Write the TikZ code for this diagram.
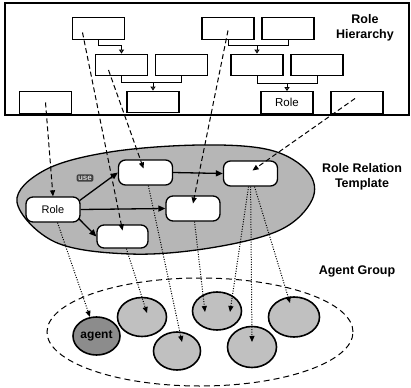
\documentclass[tikz,border=0pt]{standalone}
\usepackage{fontspec}
\setmainfont{Liberation Sans}
\usepackage{tikz}
\usetikzlibrary{calc}
\usetikzlibrary{arrows.meta}
\usetikzlibrary{shapes.geometric}
\definecolor{stipple}{RGB}{182, 182, 182}
\definecolor{agentgray}{RGB}{192, 192, 192}
\definecolor{agentdark}{RGB}{140, 140, 140}
\begin{document}
\begin{tikzpicture}[x=1pt, y=-1pt,
        hbox/.style   ={draw, line width=1.2pt, fill=white, minimum width=52pt, minimum height=21.5pt, inner sep=0pt,
                        font=\fontsize{11.5}{13}\selectfont},
        tnode/.style  ={draw, line width=1.3pt, fill=white, rounded corners=7pt, minimum width=54pt, minimum height=25pt,
                        inner sep=0pt, font=\fontsize{11}{13}\selectfont},
        agentnode/.style={ellipse, draw, line width=1.6pt, fill=agentgray, inner sep=0pt},
        title/.style  ={align=center, font=\fontsize{12.5}{15}\selectfont\bfseries},
        hline/.style  ={line width=1pt},
        isa/.style    ={line width=1pt, -{Triangle[open, length=4pt, width=5pt]}},
        rel/.style    ={line width=1.3pt, -{Triangle[length=7pt, width=6pt]}},
        maps/.style   ={line width=1pt, dash pattern=on 5pt off 3pt, -{Triangle[length=6pt, width=5pt]}},
        plays/.style  ={line width=1pt, dash pattern=on 1pt off 1.5pt, -{Triangle[length=6pt, width=5pt]}}]
    \useasboundingbox (0,0) rectangle (411,387);
    \draw[line width=1.2pt]                                          (  5,  3) rectangle (409,115);
    \filldraw[draw=black, fill=stipple, line width=1.3pt] plot[smooth cycle, tension=0.6] coordinates
        {(17,202) (45,170) (110,152) (200,145) (270,150) (308,172) (312,200) (280,230) (210,248) (130,254) (55,242)};
    \draw[line width=1pt, dash pattern=on 6pt off 4pt]              (200,332) ellipse (153pt and 54pt);

    \node[hbox] (ha)    at ( 98.5, 28.5) {};
    \node[hbox] (hb)    at (121.5, 65.0) {};
    \node[hbox] (hc)    at (181.5, 65.0) {};
    \node[hbox] (hd)    at (153.0,102.0) {};
    \node[hbox] (he)    at ( 45.5,102.5) {};
    \node[hbox] (hf)    at (228.0, 28.5) {};
    \node[hbox] (hg)    at (288.0, 28.5) {};
    \node[hbox] (hh)    at (257.0, 65.0) {};
    \node[hbox] (hi)    at (317.0, 65.0) {};
    \node[hbox] (hrole) at (287.0,102.5) {Role};
    \node[hbox] (hj)    at (357.0,102.5) {};

    \draw[isa]   (ha.south) -- ++(0,6) -| (hb.north);
    \draw[hline] (hb.south) -- ++(0,6) coordinate (bcjoin) -| (hc.south);
    \draw[isa]   (bcjoin -| hd.north) -- (hd.north);
    \draw[hline] (hf.south) -- ++(0,6) coordinate (fgjoin) -| (hg.south);
    \draw[isa]   (fgjoin -| hh.north) -- (hh.north);
    \draw[hline] (hh.south) -- ++(0,7) coordinate (hijoin) -| (hi.south);
    \draw[isa]   (hijoin -| hrole.north) -- (hrole.north);

    \node[tnode] (trole) at ( 53.0,209.5) {Role};
    \node[tnode] (tn1)   at (145.5,172.5) {};
    \node[tnode] (tn2)   at (250.5,173.5) {};
    \node[tnode] (tn3)   at (193.0,208.5) {};
    \node[tnode, minimum width=51pt, minimum height=23pt] (tn4) at (122.5,236.5) {};

    \draw[rel] ($(trole.east)+(-1,-9)$) -- (tn1.west);
    \draw[rel] (trole.east) -- (tn3.west);
    \draw[rel] ($(trole.east)+(-2,9)$) -- (tn4.west);
    \draw[rel] (tn1.east) -- (tn2.west);
    \node[fill=black!75, text=gray!30, inner sep=1.5pt, rounded corners=2pt, font=\fontsize{8}{8}\selectfont\bfseries]
                                                                     (uselbl) at (85,178) {use};

    \node[agentnode, fill=agentdark, minimum width=47pt, minimum height=38pt, font=\fontsize{12}{12}\selectfont\bfseries]
                                                                     (a1) at ( 96.5,336) {agent};
    \node[agentnode, minimum width=49pt, minimum height=39pt] (a2) at (142.0,317) {};
    \node[agentnode, minimum width=47pt, minimum height=38pt] (a3) at (177.0,351) {};
    \node[agentnode, minimum width=49pt, minimum height=38pt] (a4) at (217.0,311) {};
    \node[agentnode, minimum width=49pt, minimum height=41pt] (a5) at (252.0,347) {};
    \node[agentnode, minimum width=51pt, minimum height=40pt] (a6) at (294.0,317) {};

    \draw[maps] (he.center) -- (trole.north);
    \draw[maps] ($(ha.center)+(-16,4)$) -- ($(tn4.center)+(0,-6)$);
    \draw[maps] ($(hb.center)+(-13,5)$) -- ($(tn1.center)+(-2,-4)$);
    \draw[maps] ($(hf.center)+(0,2)$)   -- ($(tn3.center)+(0,-5)$);
    \draw[maps] ($(hj.center)+(-2,-4)$) -- ($(tn2.center)+(2,-3)$);

    \draw[plays] (trole) -- (a1);
    \draw[plays] (tn4) -- ($(a2.center)+(5,-4)$);
    \draw[plays] (tn1) -- ($(a3.center)+(5,-9)$);
    \draw[plays] (tn3) -- ($(a4.center)+(-12,1)$);
    \draw[plays] (tn2) -- ($(a4.center)+(13,1)$);
    \draw[plays] (tn2) -- ($(a5.center)+(0,-5)$);
    \draw[plays] (tn2) -- ($(a6.center)+(-4,-14)$);

    \node[title] (hiertitle) at (365,28)  {Role\\Hierarchy};
    \node[title] (tmpltitle) at (362,177) {Role Relation\\Template};
    \node[title] (grptitle)  at (357,271) {Agent Group};
\end{tikzpicture}
\end{document}
